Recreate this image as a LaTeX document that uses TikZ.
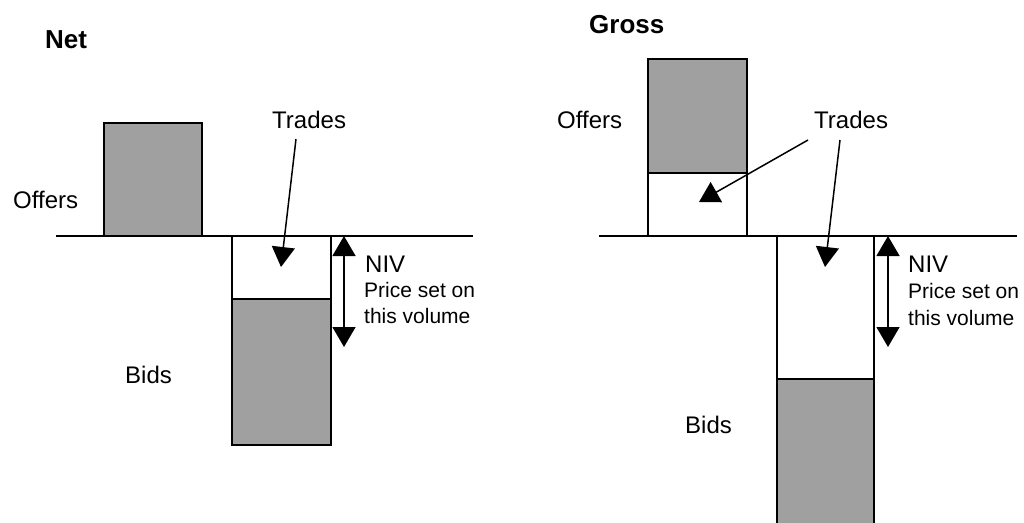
\documentclass[tikz,border=0pt]{standalone}
\usepackage{fontspec}
\setmainfont{Liberation Sans}
\usetikzlibrary{arrows.meta}
\definecolor{boxgray}{RGB}{160,160,160}
\begin{document}
\begin{tikzpicture}[x=1pt,y=-1pt,
  graybox/.style={draw=black, line width=1.5pt, fill=boxgray, inner sep=0pt, outer sep=0pt, anchor=north west},
  whitebox/.style={draw=black, line width=1.5pt, fill=white, inner sep=0pt, outer sep=0pt, anchor=north west},
  axisline/.style={line width=1.3pt},
  lbl/.style={inner sep=0pt, anchor=base west, font=\fontsize{24}{28}\selectfont},
  small/.style={inner sep=0pt, anchor=base west, font=\fontsize{21}{26}\selectfont},
  ttl/.style={inner sep=0pt, anchor=base west, font=\fontsize{26}{30}\selectfont\bfseries},
  ptr/.style={line width=1.5pt, -{Triangle[width=23pt,length=20pt]}},
  dbl/.style={line width=1.5pt, {Triangle[width=23pt,length=20pt]}-{Triangle[width=23pt,length=20pt]}}
]
\useasboundingbox (0,0) rectangle (1024,522);

% ---------- Net ----------
\coordinate (axL1) at (56,236);
\coordinate (axL2) at (473,236);
\draw[axisline] (axL1) -- (axL2);
\node[graybox, minimum width=98pt, minimum height=113pt] (offL) at (104,123) {};
\node[whitebox, minimum width=99pt, minimum height=63pt] (trL) at (232,236) {};
\node[graybox, minimum width=99pt, minimum height=146pt] (bidL) at (232,299) {};

\node[ttl] (netT) at (45,48) {Net};
\node[lbl] (tradesL) at (272,128) {Trades};
\node[lbl] (offersL) at (13,208) {Offers};
\node[lbl] (bidsL) at (125,383) {Bids};
\node[lbl] (nivL) at (365,272) {NIV};
\node[small] (priceL) at (364,297) {Price set on};
\node[small] (volL) at (364,323) {this volume};

\coordinate (tsL) at (296,139);
\coordinate (teL) at (281,267);
\draw[ptr] (tsL) -- (teL);
\coordinate (n1L) at (344,236);
\coordinate (n2L) at (344,347);
\draw[dbl] (n1L) -- (n2L);

% ---------- Gross ----------
\coordinate (axR1) at (599,236);
\coordinate (axR2) at (1017,236);
\draw[axisline] (axR1) -- (axR2);
\node[graybox, minimum width=99pt, minimum height=114pt] (offR) at (648,59) {};
\node[whitebox, minimum width=99pt, minimum height=63pt] (trR1) at (648,173) {};
\node[whitebox, minimum width=97pt, minimum height=143pt] (trR2) at (777,236) {};
\node[graybox, minimum width=97pt, minimum height=150pt] (bidR) at (777,379) {};

\node[ttl] (grossT) at (589,33) {Gross};
\node[lbl] (offersR) at (557,128) {Offers};
\node[lbl] (tradesR) at (814,128) {Trades};
\node[lbl] (bidsR) at (685,433) {Bids};
\node[lbl] (nivR) at (908,272) {NIV};
\node[small] (priceR) at (908,298) {Price set on};
\node[small] (volR) at (908,325) {this volume};

\coordinate (ts1R) at (808,140);
\coordinate (te1R) at (699,202);
\draw[ptr] (ts1R) -- (te1R);
\coordinate (ts2R) at (840,140);
\coordinate (te2R) at (825,267);
\draw[ptr] (ts2R) -- (te2R);
\coordinate (n1R) at (888,236);
\coordinate (n2R) at (888,347);
\draw[dbl] (n1R) -- (n2R);
\end{tikzpicture}
\end{document}
